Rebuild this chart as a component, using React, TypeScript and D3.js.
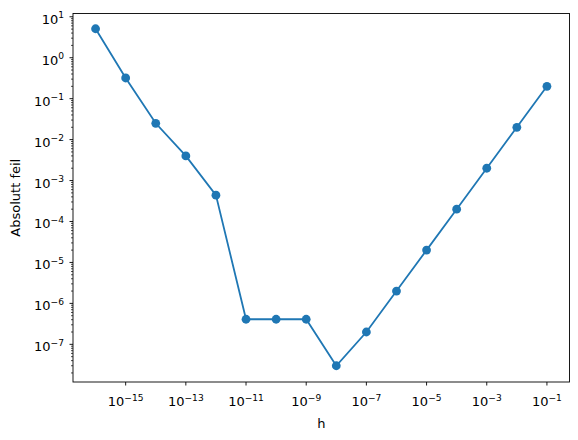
import React from "react";
import * as d3 from "d3";

const hValues = [1e-16, 1e-15, 1e-14, 1e-13, 1e-12, 1e-11, 1e-10, 1e-9, 1e-8, 1e-7, 1e-6, 1e-5, 1e-4, 1e-3, 1e-2, 1e-1];
const errValues = [5.1, 0.32, 0.025, 0.004, 4.4e-4, 4.1e-7, 4.1e-7, 4.1e-7, 3.0e-8, 2.0e-7, 2.0e-6, 2.0e-5, 2.0e-4, 2.0e-3, 2.0e-2, 0.2];
const xTickExps = [-15, -13, -11, -9, -7, -5, -3, -1];
const yTickExps = [1, 0, -1, -2, -3, -4, -5, -6, -7];
const xLabel = "h";
const yLabel = "Absolutt feil";

const W = 578, H = 440;
const L = 73, R = 569.5, T = 13.5, B = 382;
const COLOR = "#1f77b4";
const FONT = "DejaVu Sans, sans-serif";

export default function App() {
  const x = d3.scaleLog().domain([Math.pow(10, -16.75), Math.pow(10, -0.25)]).range([L, R]);
  const y = d3.scaleLog().domain([Math.pow(10, -7.92), Math.pow(10, 1.08)]).range([B, T]);
  const pts = hValues.map((h, i) => [x(h), y(errValues[i])] as [number, number]);
  const line = d3.line()(pts) || "";

  const minor: number[] = [];
  for (let e = -9; e <= 1; e++) {
    for (let m = 2; m <= 9; m++) {
      const v = m * Math.pow(10, e);
      const yy = y(v);
      if (yy >= T && yy <= B) minor.push(yy);
    }
  }

  const fs = 13;
  const sup = 9.1;

  return (
    <svg width={W} height={H} style={{ display: "block", position: "absolute", left: 0, top: 0 }} fontFamily={FONT}>
      <rect x={0} y={0} width={W} height={H} fill="#fff" />
      <path d={line} fill="none" stroke={COLOR} strokeWidth={1.8} />
      {pts.map((p, i) => (
        <circle key={i} cx={p[0]} cy={p[1]} r={4.4} fill={COLOR} />
      ))}
      <rect x={L} y={T} width={R - L} height={B - T} fill="none" stroke="#000" strokeWidth={0.9} />
      {xTickExps.map((e) => {
        const xx = x(Math.pow(10, e));
        return (
          <g key={e}>
            <line x1={xx} x2={xx} y1={B} y2={B + 3.5} stroke="#000" strokeWidth={0.9} />
            <text x={xx} y={B + 24} textAnchor="middle" fontSize={fs} fill="#000">
              10<tspan dy={-5.5} fontSize={sup}>{"\u2212" + Math.abs(e)}</tspan>
            </text>
          </g>
        );
      })}
      {minor.map((yy, i) => (
        <line key={i} x1={L - 2} x2={L} y1={yy} y2={yy} stroke="#000" strokeWidth={0.7} />
      ))}
      {yTickExps.map((e) => {
        const yy = y(Math.pow(10, e));
        return (
          <g key={e}>
            <line x1={L - 3.5} x2={L} y1={yy} y2={yy} stroke="#000" strokeWidth={0.9} />
            <text x={L - 9} y={yy + 7} textAnchor="end" fontSize={fs} fill="#000">
              10<tspan dy={-5.5} fontSize={sup}>{e < 0 ? "\u2212" + Math.abs(e) : String(e)}</tspan>
            </text>
          </g>
        );
      })}
      <text x={(L + R) / 2} y={428} textAnchor="middle" fontSize={fs} fill="#000">{xLabel}</text>
      <text transform={`translate(20, ${(T + B) / 2}) rotate(-90)`} textAnchor="middle" fontSize={fs} fill="#000">{yLabel}</text>
    </svg>
  );
}
